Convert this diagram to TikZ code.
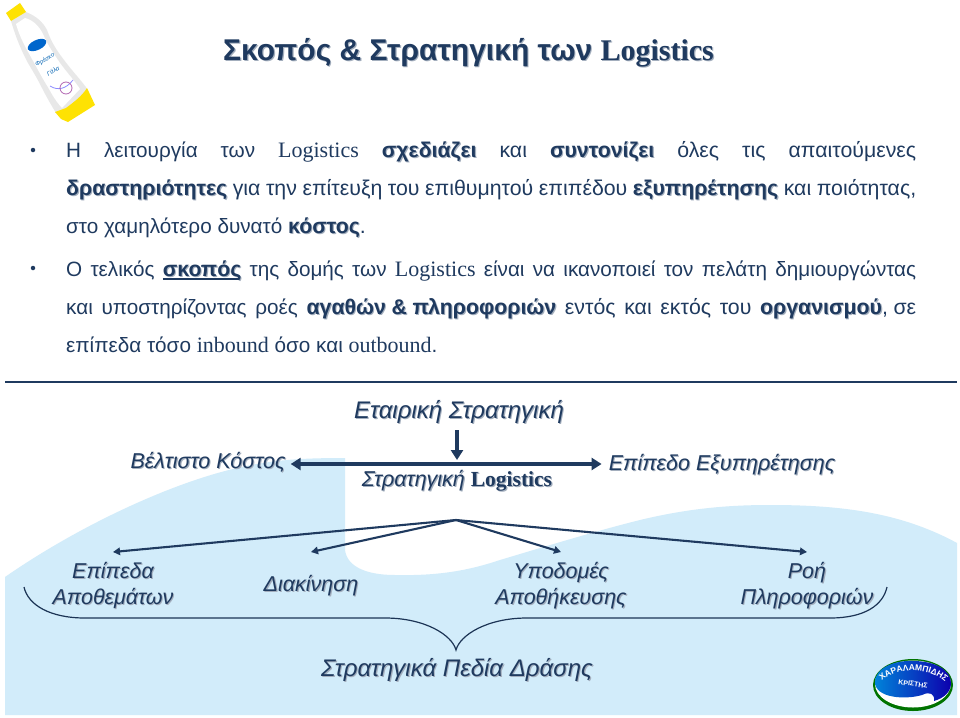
\documentclass[tikz,border=0pt]{standalone}
\usepackage{fontspec}
\usepackage{xcolor}
\setmainfont{Liberation Sans}
\newfontfamily\lserif{Liberation Serif}
\usetikzlibrary{arrows.meta,decorations.text}
\definecolor{navy}{HTML}{1F3A5F}
\definecolor{bgblue}{HTML}{D2ECFA}
\definecolor{shade}{HTML}{A3AEBD}
\newcommand{\shad}[1]{\leavevmode\rlap{\kern1.1pt\raisebox{-1.1pt}{\textcolor{shade}{#1}}}#1}
\newcommand{\bb}[1]{\shad{\fontsize{21.3}{24}\selectfont\textbf{#1}}}
\newcommand{\ubb}[1]{\setbox0=\hbox{\bb{#1}}\rlap{\rule[-3.5pt]{\wd0}{1.6pt}}\box0 }
\newcommand{\lgs}[1]{{\lserif\fontsize{22}{24}\selectfont #1}}
\newcommand{\jln}[2]{\hbox to #1{\spaceskip=0.27em plus 3em minus 0.1em\relax #2}}
\tikzset{
  x=1pt,y=-1pt,
  bodyline/.style={anchor=base west,inner sep=0,text=navy,font=\fontsize{20.7}{24}\selectfont},
  dia/.style={inner sep=0,text=navy,align=center,font=\fontsize{21.5}{25.5}\selectfont\itshape},
  bullet/.style={circle,fill=navy,inner sep=0,minimum size=4.5pt},
  thickarrow/.style={draw=navy,line width=3.6pt},
  fanarrow/.style={draw=navy,line width=2.1pt,-{Triangle[length=7pt,width=7.5pt]}},
  bigtip/.tip={Triangle[length=10pt,width=12pt]},
}
\begin{document}
\begin{tikzpicture}
\useasboundingbox (0,0) rectangle (960,717);
\fill[white] (0,0) rectangle (960,717);
% background
\fill[bgblue] (5,577) .. controls (80,525) and (170,484) .. (233,469)
  .. controls (270,460) and (300,458) .. (345,458) -- (345,550)
  .. controls (347,566) and (365,575) .. (395,575)
  .. controls (440,576) and (470,570) .. (500,560)
  .. controls (560,542) and (600,530) .. (640,520)
  .. controls (690,508) and (730,505) .. (770,505)
  .. controls (840,505) and (900,512) .. (957,543)
  -- (957,715) -- (5,715) -- cycle;
% bottle
\fill[gray!18] (11,21) -- (26,12) .. controls (36,16) and (43,22) .. (47,30)
  .. controls (52,44) and (58,52) .. (64,60) .. controls (73,72) and (81,80) .. (88,90)
  -- (68,120) -- (56,113) .. controls (50,103) and (46,96) .. (42,88)
  .. controls (36,76) and (32,70) .. (28,63) .. controls (22,52) and (16,38) .. (11,21) -- cycle;
\fill[white] (16,24) -- (25,18) .. controls (33,20) and (39,26) .. (43,34)
  .. controls (48,46) and (54,54) .. (60,63) .. controls (68,74) and (74,80) .. (80,89)
  -- (62,108) .. controls (53,98) and (50,90) .. (46,84)
  .. controls (40,74) and (36,66) .. (32,59) .. controls (26,48) and (20,38) .. (16,24) -- cycle;
\fill[yellow!85!orange] (6,13) -- (20,3) -- (26,12) -- (11,21) -- cycle;
\fill[yellow!85!orange] (87,88) -- (95,105) -- (68,122) -- (61,119) -- (55,112) -- (66,108) .. controls (74,102) and (82,96) .. (87,88) -- cycle;
\fill[blue!50!cyan!80!black,rotate around={25:(37,45)}] (37,45) ellipse [x radius=10,y radius=5];
\node[inner sep=0,text=blue!45!cyan!70!black,font=\fontsize{6}{7}\selectfont\itshape,rotate=30] (milka) at (45,60) {Φρέσκο};
\node[inner sep=0,text=blue!45!cyan!70!black,font=\fontsize{6}{7}\selectfont\itshape,rotate=30] (milkb) at (53,71) {Γάλα};
\draw[blue!45,line width=.8pt] (50,86) .. controls (58,91) and (66,89) .. (73,80);
\draw[violet!60,line width=.8pt] (66,88) circle [radius=6];
% title
\node[anchor=base west,inner sep=0,text=navy,font=\fontsize{30}{36}\selectfont\bfseries] (title) at (223,60)
  {\shad{Σκοπός \& Στρατηγική των {\lserif Logistics}}};
% bullets
\node[bullet] (b1) at (33,150) {};
\node[bullet] (b2) at (33,268) {};
% body
\node[bodyline] (l1) at (66,157) {\jln{850pt}{Η\hfil λειτουργία\hfil των\hfil \lgs{Logistics}\hfil \bb{σχεδιάζει}\hfil και\hfil \bb{συντονίζει}\hfil όλες\hfil τις\hfil απαιτούμενες}};
\node[bodyline] (l2) at (66,195) {\jln{850pt}{\bb{δραστηριότητες}\hfil για\hfil την\hfil επίτευξη\hfil του\hfil επιθυμητού\hfil επιπέδου\hfil \bb{εξυπηρέτησης}\hfil και\hfil ποιότητας,}};
\node[bodyline] (l3) at (66,233) {στο χαμηλότερο δυνατό \bb{κόστος}.};
\node[bodyline] (l4) at (66,276) {\jln{850pt}{Ο\hfil τελικός\hfil \ubb{σκοπός}\hfil της\hfil δομής\hfil των\hfil \lgs{Logistics}\hfil είναι\hfil να\hfil ικανοποιεί\hfil τον\hfil πελάτη\hfil δημιουργώντας}};
\node[bodyline] (l5) at (66,314) {\jln{850pt}{και\hfil υποστηρίζοντας\hfil ροές\hfil \bb{αγαθών \& πληροφοριών}\hfil εντός\hfil και\hfil εκτός\hfil του\hfil \bb{οργανισμού}, σε}};
\node[bodyline] (l6) at (66,352) {επίπεδα τόσο \lgs{inbound} όσο και \lgs{outbound}.};
% rule
\coordinate (ruleL) at (5,382);
\coordinate (ruleR) at (957,382);
\draw[navy,line width=2pt] (ruleL) -- (ruleR);
% strategy
\node[dia,font=\fontsize{24}{28}\selectfont\itshape] (corp) at (459,412) {\shad{Εταιρική Στρατηγική}};
\node[dia] (cost) at (208,463) {\shad{Βέλτιστο Κόστος}};
\node[dia] (serv) at (722,465) {\shad{Επίπεδο Εξυπηρέτησης}};
\node[dia] (logi) at (457,481) {\shad{Στρατηγική {\lserif\bfseries\upshape\fontsize{21.5}{24}\selectfont Logistics}}};
\coordinate (apex) at (456,520);
\coordinate (costEnd) at ([xshift=5pt]cost.east);
\coordinate (servEnd) at ([xshift=-7pt]serv.west);
\draw[thickarrow,line width=4pt,-bigtip] (457,430) -- (457,460);
\draw[thickarrow,bigtip-bigtip] (costEnd |- 0,464) -- (servEnd |- 0,464);
% fields
\node[dia] (f1) at (113,586) {\shad{Επίπεδα}\\\shad{Αποθεμάτων}};
\node[dia] (f2) at (311,586) {\shad{Διακίνηση}};
\node[dia] (f3) at (561,586) {\shad{Υποδομές}\\\shad{Αποθήκευσης}};
\node[dia] (f4) at (807,586) {\shad{Ροή}\\\shad{Πληροφοριών}};
\draw[fanarrow] (apex) -- (f1.north |- 0,552);
\draw[fanarrow] (apex) -- (f2.north |- 0,552);
\draw[fanarrow] (apex) -- (f3.north |- 0,552);
\draw[fanarrow] (apex) -- (f4.north |- 0,552);
% brace
\coordinate (br) at (456,650);
\draw[navy!90!black,line width=1.2pt] (24,587) .. controls (28,605) and (50,618) .. (85,618)
  -- (385,618) .. controls (425,618) and (452,635) .. (br)
  .. controls (460,635) and (487,618) .. (527,618) -- (830,618)
  .. controls (865,618) and (883,605) .. (887,587);
\node[dia,font=\fontsize{24}{28}\selectfont\itshape] (dom) at (457,670) {\shad{Στρατηγικά Πεδία Δράσης}};
% logo
\fill[green!45!black] (913,685) ellipse [x radius=40,y radius=26];
\fill[white] (913,684) ellipse [x radius=38,y radius=23.5];
\shade[left color=blue!40!cyan!85!black,right color=blue!70!black!90!violet]
  (875,682) .. controls (875,668) and (895,660) .. (913,661)
  .. controls (935,661) and (951,670) .. (951,683)
  .. controls (951,692) and (944,698) .. (934,701)
  .. controls (935,694) and (930,691) .. (922,695)
  .. controls (905,700) and (875,698) .. (875,682) -- cycle;
\path[decorate,decoration={text along path,text align=center,text={|\fontsize{8.5}{9}\selectfont\bfseries\color{white}|ΧΑΡΑΛΑΜΠΙΔΗΣ}}] (880,683) .. controls (895,666) and (931,666) .. (947,684);
\node[inner sep=0,text=white,font=\fontsize{7}{8}\selectfont\bfseries,rotate=-8] (logob) at (913,684) {ΚΡΙΣΤΗΣ};
\end{tikzpicture}
\end{document}
